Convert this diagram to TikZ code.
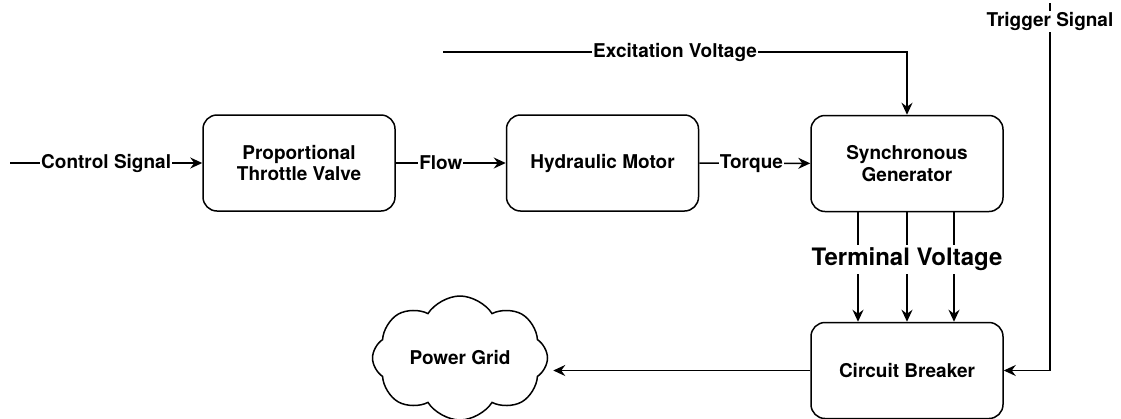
\documentclass[tikz,border=0pt]{standalone}
\usepackage{fontspec}
\setmainfont{TeX Gyre Heros}
\usetikzlibrary{arrows.meta,shapes.symbols}

\begin{document}
\begin{tikzpicture}[x=1pt,y=-1pt,line width=1.5pt,>={Stealth[length=12pt,width=11pt,inset=4pt]},
  block/.style={draw,rounded corners=14pt,minimum width=192pt,minimum height=96pt,align=center,inner sep=0pt,font=\bfseries\fontsize{19}{21.7}\selectfont},
  sig/.style={fill=white,inner sep=1pt,font=\bfseries\fontsize{19}{21.7}\selectfont},
  bus/.style={fill=white,inner sep=3pt,font=\bfseries\fontsize{24}{28}\selectfont}]
\useasboundingbox (0,0) rectangle (1121,418);
\node[block] (valve) at (299,163) {Proportional\\Throttle Valve};
\node[block] (motor) at (602.5,163) {Hydraulic Motor};
\node[block] (gen) at (907,163.5) {Synchronous\\Generator};
\node[block] (brk) at (907,370.5) {Circuit Breaker};
\node[draw,cloud,cloud puffs=8,cloud puff arc=115,aspect=1.4,minimum width=175pt,minimum height=124pt,inner sep=0pt,font=\bfseries\fontsize{19}{21.7}\selectfont] (grid) at (460,358) {Power Grid};
\coordinate (ctl) at (10,163); \coordinate (exc) at (443,52); \coordinate (trg) at (1050,3);
\path (grid.east |- brk.west) ++(5,0) coordinate (gridin);
\draw[->] (ctl) -- node[sig] {Control Signal} (valve);
\draw[->] (valve) -- node[sig,pos=0.41] {Flow} (motor);
\draw[->] (motor) -- node[sig,pos=0.47] {Torque} (gen);
\draw[->] (exc) -- node[sig] {Excitation Voltage} (exc -| gen) -- (gen);
\draw[->] (trg) -- node[sig,pos=0.05] {Trigger Signal} (trg |- brk) -- (brk);
\draw[->] ([xshift=-49pt]gen.south) -- ([xshift=-49pt]brk.north);
\draw[->] ([xshift=47pt]gen.south) -- ([xshift=47pt]brk.north);
\draw[->] (gen) -- node[bus,pos=0.43] {Terminal Voltage} (brk);
\draw[->] (brk) -- (gridin);
\end{tikzpicture}
\end{document}
